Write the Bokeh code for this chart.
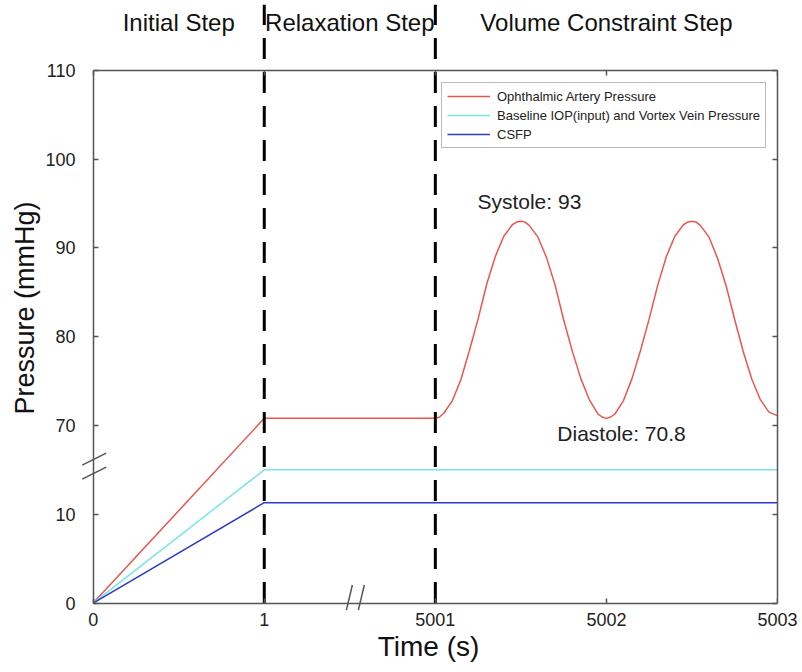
from bokeh.plotting import figure
from bokeh.models import Range1d, LinearAxis, FixedTicker, Legend, LegendItem
from bokeh.core.properties import value
from bokeh.embed import file_html
from bokeh.resources import INLINE

# ---------------- data ----------------
x_tick_values = [0, 1, 5001, 5002, 5003]
x_tick_labels = ["0", "1", "5001", "5002", "5003"]
y_tick_values = [0, 10, 70, 80, 90, 100, 110]
y_tick_labels = ["0", "10", "70", "80", "90", "100", "110"]

phase_names = ["Initial Step", "Relaxation Step", "Volume Constraint Step"]
phase_edges = [0, 1, 5001, 5003]

csfp_time = [0, 1, 5001, 5003]
csfp = [0, 11.3, 11.3, 11.3]

iop_time = [0, 1, 5001, 5003]
iop = [0, 15.0, 15.0, 15.0]

oap_time = [0, 1, 5001.00, 5001.025,
            5001.05, 5001.10, 5001.15, 5001.20, 5001.25, 5001.30, 5001.35, 5001.40, 5001.45, 5001.475, 5001.50,
            5001.525, 5001.55, 5001.60, 5001.65, 5001.70, 5001.75, 5001.80, 5001.85, 5001.90, 5001.95, 5001.975, 5002.00,
            5002.025, 5002.05, 5002.10, 5002.15, 5002.20, 5002.25, 5002.30, 5002.35, 5002.40, 5002.45, 5002.475, 5002.50,
            5002.525, 5002.55, 5002.60, 5002.65, 5002.70, 5002.75, 5002.80, 5002.85, 5002.90, 5002.95, 5003.00]
oap = [0, 70.8, 70.8, 70.95,
       71.4, 72.8, 75.2, 78.5, 82.0, 85.9, 89.0, 91.3, 92.6, 92.9, 93.0,
       92.9, 92.5, 91.2, 88.9, 85.8, 81.9, 78.4, 75.3, 72.9, 71.3, 70.95, 70.8,
       70.95, 71.3, 72.8, 75.3, 78.5, 82.0, 85.8, 89.0, 91.3, 92.6, 92.9, 93.0,
       92.9, 92.5, 91.2, 88.8, 85.7, 81.9, 78.3, 75.2, 72.9, 71.5, 71.1]

systole = 93
diastole = 70.8

series_names = ["Ophthalmic Artery Pressure",
                "Baseline IOP(input) and Vortex Vein Pressure",
                "CSFP"]
series_colors = ["#e5584f", "#78e4e4", "#2b3bc8"]


# ------------- broken-axis transforms -------------
def tx(t):
    if t <= 1:
        return t
    if t >= 5001:
        return t - 4999
    return 1 + (t - 1) / 5000.0


def ty(v):
    if v <= 15:
        return v
    if v >= 70:
        return v - 50
    return 15 + (v - 15) * 5.0 / 55.0


FONT = value("Liberation Sans")
AXIS_COLOR = "#555555"

X_END = tx(x_tick_values[-1])
Y_TOP = ty(y_tick_values[-1])
Y_FRAME_TOP = 67.4

p = figure(width=802, height=672,
           x_range=Range1d(-0.08, X_END), y_range=Range1d(-0.95, Y_FRAME_TOP),
           output_backend="svg", toolbar_location=None,
           min_border_left=79, min_border_right=25, min_border_top=4, min_border_bottom=61)
p.outline_line_color = None
p.xgrid.visible = False
p.ygrid.visible = False
p.background_fill_color = "white"
p.border_fill_color = "white"

xt = [tx(v) for v in x_tick_values]
yt = [ty(v) for v in y_tick_values]


def rule_axis(ax, ticks):
    """axis line + inward ticks, no labels"""
    ax.ticker = FixedTicker(ticks=ticks)
    ax.minor_tick_line_color = None
    ax.major_tick_in = 5
    ax.major_tick_out = 0
    ax.axis_line_color = AXIS_COLOR
    ax.axis_line_width = 1.5
    ax.major_tick_line_color = AXIS_COLOR
    ax.major_tick_line_width = 1.5
    ax.major_label_overrides = {k: "" for k in ticks}
    ax.major_label_text_font_size = "0px"
    ax.major_label_standoff = 0
    ax.axis_label = None


def label_axis(ax, ticks, labels, title, title_size, standoff, title_standoff):
    """labels only, no line / ticks"""
    ax.ticker = FixedTicker(ticks=ticks)
    ax.minor_tick_line_color = None
    ax.major_tick_line_color = None
    ax.major_tick_in = 0
    ax.major_tick_out = 0
    ax.axis_line_color = None
    ax.major_label_overrides = {k: l for k, l in zip(ticks, labels)}
    ax.major_label_text_font = "Liberation Sans"
    ax.major_label_text_font_size = "18px"
    ax.major_label_text_color = "#222222"
    ax.major_label_standoff = standoff
    ax.axis_label = title
    ax.axis_label_text_font = "Liberation Sans"
    ax.axis_label_text_font_size = title_size
    ax.axis_label_text_font_style = "normal"
    ax.axis_label_text_color = "#111111"
    ax.axis_label_standoff = title_standoff


# left: rule at x=0, labels at frame edge
ya = p.yaxis[0]
rule_axis(ya, yt)
ya.fixed_location = 0
ya.bounds = (0, Y_TOP)
yl = LinearAxis()
label_axis(yl, yt, y_tick_labels, "Pressure (mmHg)", "27px", 4, 2)
p.add_layout(yl, "left")

# bottom: rule at y=0, labels at frame edge
xa = p.xaxis[0]
rule_axis(xa, xt)
xa.fixed_location = 0
xa.bounds = (0, X_END)
xl = LinearAxis()
label_axis(xl, xt, x_tick_labels, "Time (s)", "28px", 1, 2)
p.add_layout(xl, "below")

# right and top frame axes
ra = LinearAxis(bounds=(0, Y_TOP))
rule_axis(ra, yt)
p.add_layout(ra, "right")

ta = LinearAxis(bounds=(0, X_END), fixed_location=Y_TOP)
rule_axis(ta, xt)
p.add_layout(ta, "above")

# series
r_oap = p.line([tx(t) for t in oap_time], [ty(v) for v in oap],
               line_color=series_colors[0], line_width=1.5, line_join="round")
r_iop = p.line([tx(t) for t in iop_time], [ty(v) for v in iop],
               line_color=series_colors[1], line_width=1.5)
r_csf = p.line([tx(t) for t in csfp_time], [ty(v) for v in csfp],
               line_color=series_colors[2], line_width=1.5)

# phase separators (dashed)
for b in phase_edges[1:-1]:
    p.segment(x0=[tx(b)], y0=[0], x1=[tx(b)], y1=[Y_FRAME_TOP],
              line_color="black", line_width=3, line_dash="21 13")

# phase names above plot
mids = [(tx(a) + tx(b)) / 2 for a, b in zip(phase_edges[:-1], phase_edges[1:])]
p.text(x=mids, y=[65.4] * len(mids), text=phase_names,
       text_font=FONT, text_font_size=value("24px"), text_color="#111111",
       text_align="center", text_baseline="middle")

# annotations
p.text(x=[2.246], y=[45.25], text=[f"Systole: {systole:g}"],
       text_font=FONT, text_font_size=value("21px"), text_color="#222222",
       text_align="left", text_baseline="middle")
p.text(x=[2.713], y=[19.14], text=[f"Diastole: {diastole:g}"],
       text_font=FONT, text_font_size=value("21px"), text_color="#222222",
       text_align="left", text_baseline="middle")

# axis break marks
p.segment(x0=[-0.064, -0.064], y0=[15.54, 13.96], x1=[0.076, 0.076], y1=[16.89, 15.31],
          line_color=AXIS_COLOR, line_width=1.5)
p.segment(x0=[1.480, 1.550], y0=[-0.79, -0.79], x1=[1.515, 1.585], y1=[2.03, 2.03],
          line_color=AXIS_COLOR, line_width=1.5)

# legend
legend = Legend(items=[LegendItem(label=series_names[0], renderers=[r_oap]),
                       LegendItem(label=series_names[1], renderers=[r_iop]),
                       LegendItem(label=series_names[2], renderers=[r_csf])],
                location=(362, 463))
legend.border_line_color = "#777777"
legend.border_line_width = 1
legend.background_fill_color = "white"
legend.background_fill_alpha = 1
legend.padding = 5
legend.spacing = 3
legend.margin = 0
legend.glyph_height = 16
legend.glyph_width = 43
legend.label_height = 16
legend.label_standoff = 7
legend.label_text_font = "Liberation Sans"
legend.label_text_font_size = "13px"
legend.label_text_color = "#222222"
p.add_layout(legend, "center")

open("out.html", "w").write(file_html(p, INLINE))
